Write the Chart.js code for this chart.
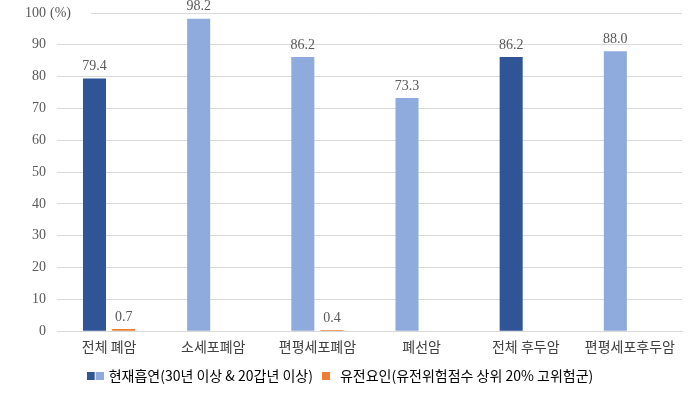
<!DOCTYPE html>
<html>
<head>
<meta charset="utf-8">
<script src="https://cdn.jsdelivr.net/npm/chart.js@4"></script>
<style>
  html, body { margin: 0; padding: 0; background: #fff; }
  #wrap { width: 699px; height: 393px; }
</style>
</head>
<body>
<div id="wrap"><canvas id="chart" width="699" height="393"></canvas></div>
<script>
const categories = ['전체 폐암', '소세포폐암', '편평세포폐암', '폐선암', '전체 후두암', '편평세포후두암'];
const smokingValues = [79.4, 98.2, 86.2, 73.3, 86.2, 88.0];
const geneticValues = [0.7, null, 0.4, null, null, null];
const seriesNames = ['현재흡연(30년 이상 & 20갑년 이상)', '유전요인(유전위험점수 상위 20% 고위험군)'];
const yTicks = [0, 10, 20, 30, 40, 50, 60, 70, 80, 90, 100];

const dark = '#2F5597';
const light = '#8FAADC';
const orange = '#ED7D31';
const smokingColors = [dark, light, light, light, dark, light];

const serif = '"Liberation Serif", "DejaVu Serif", serif';
const kr = '"Noto Sans CJK KR", "Noto Sans", sans-serif';

// legend markers
function makeMarker(colors) {
    const c = document.createElement('canvas');
    c.width = colors.length * 9 - 1;
    c.height = 8;
    const g = c.getContext('2d');
    colors.forEach((col, i) => {
        g.fillStyle = col;
        g.fillRect(i * 9, 0, 8, 8);
    });
    return c;
}
const markerSmoking = makeMarker([dark, light]);
const markerGenetic = makeMarker([orange]);

const valueLabels = {
    id: 'valueLabels',
    afterDatasetsDraw(chart) {
        const ctx = chart.ctx;
        ctx.save();
        ctx.font = '14px ' + serif;
        ctx.fillStyle = '#595959';
        ctx.textAlign = 'center';
        ctx.textBaseline = 'bottom';
        chart.data.datasets.forEach((ds, i) => {
            const meta = chart.getDatasetMeta(i);
            meta.data.forEach((bar, j) => {
                const v = ds.data[j];
                if (v === null || v === undefined) return;
                ctx.fillText(v.toFixed(1), bar.x, bar.y - 5);
            });
        });
        ctx.restore();
    }
};

const percentUnit = {
    id: 'percentUnit',
    afterDraw(chart) {
        const y = chart.scales.y;
        const py = y.getPixelForValue(100);
        const ctx = chart.ctx;
        ctx.save();
        ctx.font = '14px ' + serif;
        const w = ctx.measureText('(%)').width;
        ctx.fillStyle = '#fff';
        ctx.fillRect(50, py - 7, w + 20, 14);
        ctx.fillStyle = '#595959';
        ctx.textAlign = 'left';
        ctx.textBaseline = 'middle';
        ctx.fillText('(%)', 50, py);
        ctx.restore();
    }
};

new Chart(document.getElementById('chart'), {
    type: 'bar',
    data: {
        labels: categories,
        datasets: [{
            label: seriesNames[0],
            data: smokingValues,
            backgroundColor: smokingColors,
            barPercentage: 0.79,
            categoryPercentage: 0.56
        }, {
            label: seriesNames[1],
            data: geneticValues,
            backgroundColor: orange,
            barPercentage: 0.79,
            categoryPercentage: 0.56
        }]
    },
    options: {
        responsive: false,
        animation: false,
        layout: { padding: { top: 13, right: 17, left: 0, bottom: 0 } },
        plugins: {
            legend: {
                position: 'bottom',
                labels: {
                    usePointStyle: true,
                    pointStyleWidth: 13,
                    font: { family: kr, size: 14 },
                    color: '#404040',
                    padding: 7,
                    generateLabels(chart) {
                        return [
                            { text: seriesNames[0], pointStyle: markerSmoking, fillStyle: dark, strokeStyle: dark, lineWidth: 0, datasetIndex: 0 },
                            { text: seriesNames[1], pointStyle: markerGenetic, fillStyle: orange, strokeStyle: orange, lineWidth: 0, datasetIndex: 1 }
                        ];
                    }
                }
            },
            tooltip: { enabled: false }
        },
        scales: {
            x: {
                grid: { display: false, drawTicks: false },
                border: { color: '#d9d9d9' },
                ticks: { font: { family: kr, size: 14 }, color: '#404040', maxRotation: 0, padding: 7 }
            },
            y: {
                min: 0,
                max: 100,
                afterBuildTicks(scale) { scale.ticks = yTicks.map(v => ({ value: v })); },
                afterFit(scale) {
                    scale.width = 57;
                    scale.paddingTop = 0;
                    scale.paddingBottom = 0;
                },
                grid: { color: '#d9d9d9', drawTicks: false },
                border: { display: false },
                ticks: { font: { family: serif, size: 14 }, color: '#595959', padding: 11 }
            }
        }
    },
    plugins: [valueLabels, percentUnit]
});
</script>
</body>
</html>
